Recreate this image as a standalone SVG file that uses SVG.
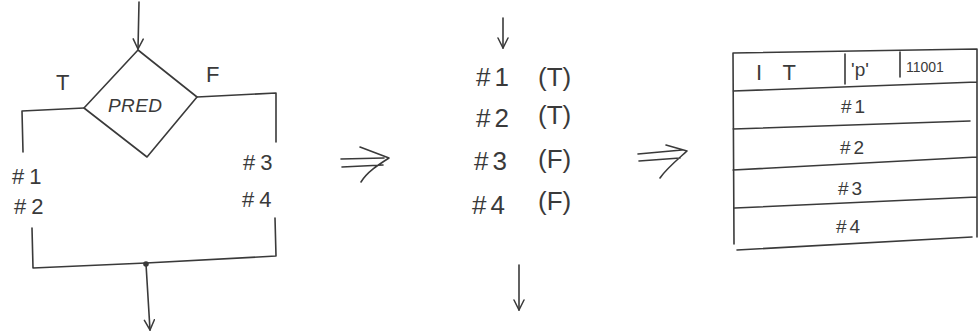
<svg xmlns="http://www.w3.org/2000/svg" width="980" height="336" viewBox="0 0 980 336">
<defs>
<style>
.ln{fill:none;stroke:#3a3a3a;stroke-width:1.6;stroke-linecap:round;stroke-linejoin:round}
.tx{font-family:"Liberation Sans",Arial,sans-serif;fill:#3a3a3a}
.big{font-size:26px}
.mid{font-size:22px}
.sm{font-size:19px}
</style>
<marker id="ah" viewBox="0 0 12 12" refX="11" refY="6" markerWidth="12" markerHeight="12" markerUnits="userSpaceOnUse" orient="auto">
<path d="M1,1 L11,6 L1,11" fill="none" stroke="#3a3a3a" stroke-width="1.5" stroke-linecap="round"/>
</marker>
</defs>
<rect width="980" height="336" fill="#ffffff"/>

<g id="connectors">
<path class="ln" d="M139,2 L138,49" marker-end="url(#ah)"/>
<path class="ln" d="M84,108 L22,111 L23,152"/>
<path class="ln" d="M197,97 L276,93 L276,142"/>
<path class="ln" d="M32,228 L33,268 L146,263 L276,256 L275,218"/>
<path class="ln" d="M146,264 L150,330" marker-end="url(#ah)"/>
<path class="ln" d="M503,18 L503,48" marker-end="url(#ah)"/>
<path class="ln" d="M519,265 L519,310" marker-end="url(#ah)"/>
</g>
<circle cx="146" cy="264" r="2.8" fill="#3a3a3a"/>

<g id="pred">
<path class="ln" d="M138,50 L197,97 L147,157 L84,108 Z"/>
<text class="tx sm" x="108" y="112" font-style="italic" textLength="54">PRED</text>
</g>
<g id="label-t"><text class="tx mid" x="56" y="90">T</text></g>
<g id="label-f"><text class="tx mid" x="206" y="82">F</text></g>
<g id="then-block">
<text class="tx mid" x="12" y="184" letter-spacing="5">#1</text>
<text class="tx mid" x="14" y="214" letter-spacing="5">#2</text>
</g>
<g id="else-block">
<text class="tx mid" x="243" y="170" letter-spacing="5">#3</text>
<text class="tx mid" x="242" y="207" letter-spacing="5">#4</text>
</g>

<g id="implies-1">
<path class="ln" d="M341,159 L384,158 M342,167 L383,165 M360,147 L389,158 C378,165 367,172 361,182"/>
</g>

<g id="linear">
<text class="tx big" x="476" y="86" letter-spacing="4">#1</text><text class="tx big" x="538" y="86">(T)</text>
<text class="tx big" x="476" y="127" letter-spacing="4">#2</text><text class="tx big" x="538" y="124">(T)</text>
<text class="tx big" x="474" y="170" letter-spacing="4">#3</text><text class="tx big" x="538" y="168">(F)</text>
<text class="tx big" x="472" y="214" letter-spacing="4">#4</text><text class="tx big" x="538" y="210">(F)</text>
</g>

<g id="implies-2">
<path class="ln" d="M638,154 L682,150 M639,161 L680,158 M666,145 L687,151 C677,160 666,169 660,178"/>
</g>

<g id="it-table">
<path class="ln" d="M733,53 L977,49 M733,53 L734,244 M977,49 L977,237 M733,91 L977,82 M733,129 L970,121 M733,170 L977,157 M735,208 L977,197 M737,250 L972,237 M845,54 L845,84 M900,52 L900,77"/>
<text class="tx mid" x="756" y="80" textLength="40">IT</text>
<text class="tx sm" x="851" y="76">'p'</text>
<text class="tx" font-size="14" x="906" y="72">11001</text>
<text class="tx sm" x="841" y="113" letter-spacing="3">#1</text>
<text class="tx sm" x="840" y="154" letter-spacing="3">#2</text>
<text class="tx sm" x="838" y="195" letter-spacing="3">#3</text>
<text class="tx sm" x="836" y="233" letter-spacing="3">#4</text>
</g>
</svg>
